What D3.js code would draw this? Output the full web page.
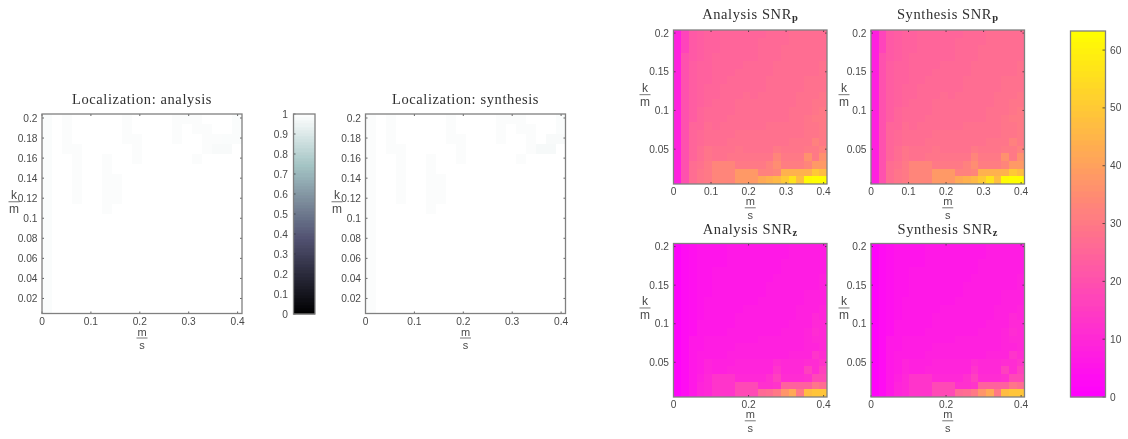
<!DOCTYPE html>
<html><head><meta charset="utf-8">
<script src="https://cdn.jsdelivr.net/npm/d3@7/dist/d3.min.js"></script>
<style>
html,body{margin:0;padding:0;background:#fff;overflow:hidden}
svg{display:block;filter:blur(0.35px)}
text{font-family:"Liberation Sans",Arial,sans-serif;fill:#4a4a4a;font-size:10.2px}
.title{font-family:"Liberation Serif",serif;font-size:14.5px;fill:#303030;letter-spacing:.6px}
</style></head><body>
<svg id="chart" width="1128" height="439"></svg>
<script>
const snrColumns = d3.range(20);
const xTicksFull = [0, 0.1, 0.2, 0.3, 0.4];
const xTicksSparse = [0, 0.2, 0.4];
const yTicksFine = [0.02, 0.04, 0.06, 0.08, 0.1, 0.12, 0.14, 0.16, 0.18, 0.2];
const yTicksCoarse = [0.05, 0.1, 0.15, 0.2];
const boneTicks = [0, .1, .2, .3, .4, .5, .6, .7, .8, .9, 1];
const springTicks = [0, 10, 20, 30, 40, 50, 60];

const snrP = [
[8,17,22,23,24,24,25,25,25,25,25,25,26,26,26,27,27,27,27,27],
[8,17,22,23,24,24,25,25,25,25,25,26,26,26,26,27,27,27,27,27],
[8,17,22,23,24,24,25,25,25,25,25,26,26,26,27,27,27,27,27,27],
[8,20,22,23,24,25,25,25,25,25,25,26,26,26,27,27,27,27,27,27],
[8,20,23,24,24,25,25,25,25,26,26,26,26,27,27,27,27,27,27,28],
[8,20,23,24,24,25,25,25,26,26,26,26,26,27,27,27,27,27,27,28],
[8,20,23,24,24,25,25,26,26,26,26,26,27,27,27,27,27,28,28,28],
[8,20,23,24,25,25,26,26,26,26,26,26,27,27,27,27,27,28,28,28],
[8,20,23,24,25,25,26,26,26,27,26,27,27,27,27,27,28,28,28,29],
[8,20,23,24,25,26,26,26,27,27,27,27,27,27,27,27,28,28,29,29],
[8,20,23,25,26,26,26,26,27,27,27,27,27,27,27,28,28,28,29,30],
[8,20,23,25,26,26,26,27,27,27,27,27,27,27,27,28,28,29,30,30],
[8,20,25,25,27,26,27,27,27,27,27,27,28,28,28,28,28,29,29,30],
[8,20,25,26,27,27,27,27,28,28,28,28,28,28,28,28,28,29,29,30],
[8,20,25,26,27,27,27,28,28,28,28,28,28,28,28,29,29,29,32,30],
[8,20,25,27,29,28,28,28,29,28,28,28,28,30,29,29,29,30,30,32],
[8,20,25,27,29,28,28,29,29,29,29,29,29,33,30,30,30,36,30,36],
[8,20,27,28,30,33,33,33,30,30,30,30,32,35,31,31,31,33,38,38],
[8,20,27,29,30,33,33,33,38,38,38,32,32,33,44,44,44,44,50,47],
[8,20,27,29,30,33,33,33,38,38,38,42,44,46,50,56,47,62,63,63]];

const snrZ = [
[1,3,4,5,5,5,5,6,6,6,6,6,6,6,6,7,7,7,7,7],
[1,3,4,5,5,5,5,6,6,6,6,6,6,6,6,7,7,7,7,7],
[1,3,4,5,5,5,5,6,6,6,6,6,6,6,7,7,7,7,7,7],
[1,3,4,5,5,6,6,6,6,6,6,6,6,6,7,7,7,7,7,7],
[1,3,4,5,5,6,6,6,6,6,6,6,6,7,7,7,7,7,7,8],
[1,3,4,5,5,6,6,6,6,6,6,6,7,7,7,7,7,7,7,8],
[1,3,4,5,5,6,6,6,6,6,6,6,7,7,7,7,7,8,8,8],
[1,3,4,5,6,6,6,6,6,6,6,7,7,7,7,7,7,8,8,8],
[1,3,4,5,6,6,6,6,6,7,7,7,7,7,7,7,8,8,8,9],
[1,3,4,5,6,6,6,6,7,7,7,7,7,7,7,7,8,8,10,9],
[1,3,4,6,6,6,6,6,7,7,7,7,7,7,7,8,8,8,10,10],
[1,3,4,6,6,6,6,7,7,7,7,7,7,7,8,8,8,9,11,10],
[1,3,6,6,7,7,7,7,7,7,7,8,8,8,8,8,8,9,10,10],
[1,3,6,6,7,7,7,7,8,8,8,8,8,8,8,8,8,9,9,10],
[1,3,6,7,7,7,7,8,8,8,8,8,8,8,8,9,9,9,13,11],
[1,3,6,7,9,8,8,8,9,9,9,9,9,11,10,10,10,11,11,13],
[1,3,6,7,9,8,8,9,9,9,9,9,9,13,10,10,10,16,11,16],
[1,3,6,8,10,13,13,13,10,10,10,10,12,16,11,11,11,12,18,18],
[1,3,6,9,10,13,13,13,18,18,18,12,12,13,24,24,24,24,29,27],
[1,3,6,9,10,13,13,13,18,18,18,26,27,30,37,42,30,47,49,49]];

const locA = [
[.985,1,.988,1,1,1,1,1,.988,1,1,1,1,.988,.988,.988,1,1,1,.985],
[.985,1,.988,1,1,1,1,1,.988,1,1,1,1,.988,1,.988,.988,1,1,.985],
[.985,1,.988,1,1,1,1,1,.988,.988,1,1,1,.988,1,1,.988,.988,.985,.985],
[.985,1,.988,.988,1,1,1,1,1,.988,1,1,1,1,1,1,.988,.98,.98,1],
[.985,1,1,.988,1,1,.988,1,1,.988,1,1,1,1,1,.988,1,1,1,1],
[.985,1,1,.988,1,1,.988,1,1,1,1,1,1,1,1,1,1,1,1,1],
[.985,1,1,.988,1,1,.988,.988,1,1,1,1,1,1,1,1,1,1,1,1],
[.985,1,1,.988,1,1,.988,.988,1,1,1,1,1,1,1,1,1,1,1,1],
[.985,1,1,.988,1,1,.988,.988,1,1,1,1,1,1,1,1,1,1,1,1],
[.985,1,1,1,1,1,.988,1,1,1,1,1,1,1,1,1,1,1,1,1],
[.985,1,1,1,1,1,1,1,1,1,1,1,1,1,1,1,1,1,1,1],
[.985,1,1,1,1,1,1,1,1,1,1,1,1,1,1,1,1,1,1,1],
[.985,1,1,1,1,1,1,1,1,1,1,1,1,1,1,1,1,1,1,1],
[.985,1,1,1,1,1,1,1,1,1,1,1,1,1,1,1,1,1,1,1],
[.985,1,1,1,1,1,1,1,1,1,1,1,1,1,1,1,1,1,1,1],
[.985,1,1,1,1,1,1,1,1,1,1,1,1,1,1,1,1,1,1,1],
[.985,1,1,1,1,1,1,1,1,1,1,1,1,1,1,1,1,1,1,1],
[.985,1,1,1,1,1,1,1,1,1,1,1,1,1,1,1,1,1,1,1],
[.985,1,1,1,1,1,1,1,1,1,1,1,1,1,1,1,1,1,1,1],
[.985,1,1,1,1,1,1,1,1,1,1,1,1,1,1,1,1,1,1,1]];

const locS = [
[.988,1,.988,1,1,1,1,1,.988,1,1,1,1,.988,.988,.988,1,1,1,.985],
[.988,1,.988,1,1,1,1,1,.988,1,1,1,1,.988,1,.988,.988,1,1,.985],
[.988,1,.988,1,1,1,1,1,.988,.988,1,1,1,.988,1,1,.988,1,.98,.98],
[.988,1,.988,.988,1,1,1,1,1,.988,1,1,1,1,1,1,.988,.975,.975,1],
[.988,1,1,.988,1,1,.988,1,1,.988,1,1,1,1,1,.988,1,1,1,1],
[.988,1,1,.988,1,1,.988,1,1,1,1,1,1,1,1,1,1,1,1,1],
[.988,1,1,.988,1,1,.988,.988,1,1,1,1,1,1,1,1,1,1,1,1],
[.988,1,1,.988,1,1,.988,.988,1,1,1,1,1,1,1,1,1,1,1,1],
[.988,1,1,.988,1,1,.988,.988,1,1,1,1,1,1,1,1,1,1,1,1],
[.988,1,1,1,1,1,.988,1,1,1,1,1,1,1,1,1,1,1,1,1],
[.988,1,1,1,1,1,1,1,1,1,1,1,1,1,1,1,1,1,1,1],
[.988,1,1,1,1,1,1,1,1,1,1,1,1,1,1,1,1,1,1,1],
[.988,1,1,1,1,1,1,1,1,1,1,1,1,1,1,1,1,1,1,1],
[.988,1,1,1,1,1,1,1,1,1,1,1,1,1,1,1,1,1,1,1],
[.988,1,1,1,1,1,1,1,1,1,1,1,1,1,1,1,1,1,1,1],
[.988,1,1,1,1,1,1,1,1,1,1,1,1,1,1,1,1,1,1,1],
[.988,1,1,1,1,1,1,1,1,1,1,1,1,1,1,1,1,1,1,1],
[.988,1,1,1,1,1,1,1,1,1,1,1,1,1,1,1,1,1,1,1],
[.988,1,1,1,1,1,1,1,1,1,1,1,1,1,1,1,1,1,1,1],
[.988,1,1,1,1,1,1,1,1,1,1,1,1,1,1,1,1,1,1,1]];

const svg = d3.select("#chart");
const FRAME = "#808080";
const bone = d3.scaleLinear().domain([0,.375,.75,1]).range(["#000000","#515171","#a6c6c6","#ffffff"]);
const spring = d3.scaleLinear().domain([0,63.3]).range(["#ff00ff","#ffff00"]);

function frac(g, top, bottom, cx, yBar, half, size) {
  g.append("text").attr("x",cx).attr("y",yBar-2.5).attr("text-anchor","middle").style("font-size",size+"px").text(top);
  g.append("line").attr("x1",cx-half).attr("x2",cx+half).attr("y1",yBar).attr("y2",yBar).attr("stroke","#555").attr("stroke-width",.8);
  g.append("text").attr("x",cx).attr("y",yBar+11).attr("text-anchor","middle").style("font-size",size+"px").text(bottom);
}

function heat(o) {
  const g = svg.append("g");
  const px = d3.scaleBand().domain(snrColumns).range([o.x, o.x+o.w]);
  const py = d3.scaleBand().domain(snrColumns).range([o.y, o.y+o.h]);
  const x = d3.scaleLinear().domain([0,.409]).range([o.x,o.x+o.w]);
  const y = d3.scaleLinear().domain([.005,.204]).range([o.y+o.h,o.y]);
  o.data.forEach((row,r)=>row.forEach((v,c)=>{
    g.append("rect").attr("x",px(c)).attr("y",py(r))
      .attr("width",px.bandwidth()).attr("height",py.bandwidth())
      .attr("shape-rendering","crispEdges")
      .attr("fill",o.color(v));
  }));
  const fmt = d => String(+d.toFixed(2));
  o.xt.forEach(t=>{
    g.append("line").attr("x1",x(t)).attr("x2",x(t)).attr("y1",o.y+o.h).attr("y2",o.y+o.h-2).attr("stroke","#222").attr("stroke-width",.7);
    g.append("line").attr("x1",x(t)).attr("x2",x(t)).attr("y1",o.y).attr("y2",o.y+2).attr("stroke","#222").attr("stroke-width",.7);
    g.append("text").attr("x",x(t)).attr("y",o.y+o.h+o.tick).attr("text-anchor","middle").text(fmt(t));
  });
  o.yt.forEach(t=>{
    g.append("line").attr("x1",o.x).attr("x2",o.x+2).attr("y1",y(t)).attr("y2",y(t)).attr("stroke","#222").attr("stroke-width",.7);
    g.append("line").attr("x1",o.x+o.w).attr("x2",o.x+o.w-2).attr("y1",y(t)).attr("y2",y(t)).attr("stroke","#222").attr("stroke-width",.7);
    g.append("text").attr("x",o.x-4.5).attr("y",y(t)+3.5).attr("text-anchor","end").text(fmt(t));
  });
  g.append("rect").attr("x",o.x).attr("y",o.y).attr("width",o.w).attr("height",o.h).attr("fill","none").attr("stroke",FRAME).attr("stroke-width",1.3);
  const title = g.append("text").attr("class","title").attr("x",o.x+o.w/2).attr("y",o.y-o.tg).attr("text-anchor","middle");
  title.text(o.title);
  if (o.sub) title.append("tspan").attr("dy",2).style("font-size","10.5px").style("font-weight","bold").text(o.sub);
  frac(g,"m","s",o.x+o.w/2,o.y+o.h+o.xg,5.5,o.fs);
  frac(g,"k","m",o.lx,o.y+o.h*o.ly,5.5,12);
}

function colorbar(o) {
  const g = svg.append("g");
  const y = d3.scaleLinear().domain([0,o.max]).range([o.y+o.h,o.y]);
  d3.range(0,o.h).forEach(i=>{
    const v = y.invert(o.y+o.h-i-.5);
    const step = o.max/64, q = Math.min(Math.floor(v/step),63)*step+step/2;
    g.append("rect").attr("x",o.x).attr("y",o.y+o.h-i-1).attr("width",o.w).attr("height",1.3).attr("fill",o.color(q));
  });
  o.ticks.forEach(t=>{
    const tx = o.side==="left"?[o.x,o.x+2]:[o.x+o.w,o.x+o.w-3];
    g.append("line").attr("x1",tx[0]).attr("x2",tx[1]).attr("y1",y(t)).attr("y2",y(t)).attr("stroke","#222").attr("stroke-width",.7);
    g.append("text").attr("x",o.side==="left"?o.x-5.5:o.x+o.w+4.5).attr("y",y(t)+3.5)
      .attr("text-anchor",o.side==="left"?"end":"start").text(t);
  });
  g.append("rect").attr("x",o.x).attr("y",o.y).attr("width",o.w).attr("height",o.h).attr("fill","none").attr("stroke",FRAME).attr("stroke-width",1.3);
}

const big = {w:200,h:199.5,y:114,color:bone,xt:xTicksFull,yt:yTicksFine,tg:10,xg:24.5,ly:.44,tick:11.8,fs:11};
heat({...big,x:42,data:locA,title:"Localization: analysis",lx:14});
heat({...big,x:365.5,data:locS,title:"Localization: synthesis",lx:337});
colorbar({x:293.5,y:114,w:21.5,h:200,max:1,color:bone,ticks:boneTicks,side:"left"});

const small = {w:153.5,h:154,color:spring,tick:11.3,fs:11,xg:23.8,yt:yTicksCoarse,ly:.42};
heat({...small,x:673.5,y:30,data:snrP,title:"Analysis SNR",sub:"p",xt:xTicksFull,tg:11,lx:645});
heat({...small,x:871,y:30,data:snrP,title:"Synthesis SNR",sub:"p",xt:xTicksFull,tg:11,lx:844});
heat({...small,x:673.5,y:243.5,h:153.5,data:snrZ,title:"Analysis SNR",sub:"z",xt:xTicksSparse,tg:10,lx:645});
heat({...small,x:871,y:243.5,h:153.5,data:snrZ,title:"Synthesis SNR",sub:"z",xt:xTicksSparse,tg:10,lx:844});
colorbar({x:1070.5,y:31,w:35,h:366,max:63.3,color:spring,ticks:springTicks,side:"right"});
</script>
</body></html>
